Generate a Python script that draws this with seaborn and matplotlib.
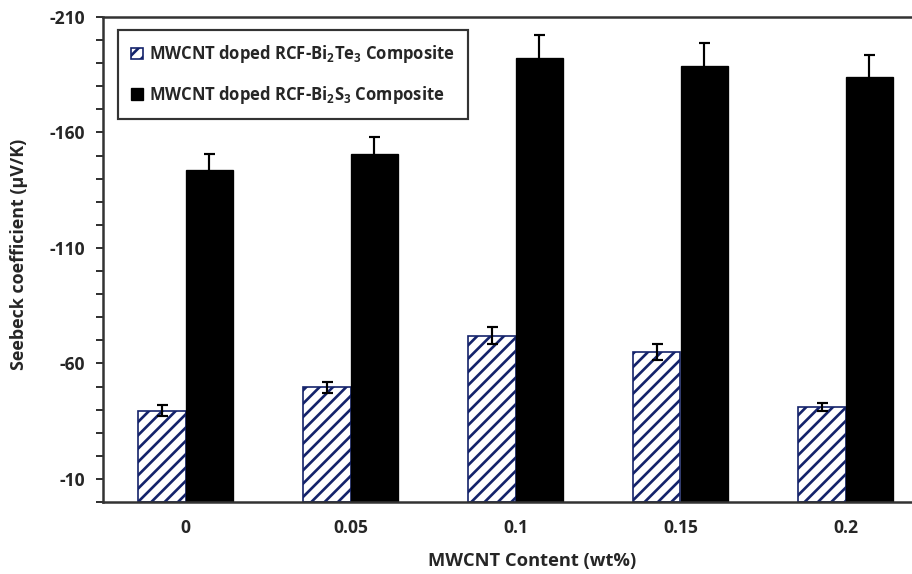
import numpy as np
import pandas as pd
import matplotlib
matplotlib.use("Agg")
import matplotlib.pyplot as plt
import seaborn as sns
from matplotlib.ticker import MultipleLocator

# ---- data ----
contents = ["0", "0.05", "0.1", "0.15", "0.2"]
series_names = ["MWCNT doped RCF-Bi$_2$Te$_3$ Composite",
                "MWCNT doped RCF-Bi$_2$S$_3$ Composite"]
bi2te3_vals = [-39.6, -49.7, -72.0, -65.0, -41.1]
bi2te3_err = [2.2, 2.4, 3.6, 3.3, 1.9]
bi2s3_vals = [-143.8, -150.6, -192.3, -188.8, -184.1]
bi2s3_err = [6.9, 7.6, 9.7, 9.8, 9.5]
y_ticks = [-10, -60, -110, -160, -210]

df = pd.DataFrame({
    "content": contents * 2,
    "value": bi2te3_vals + bi2s3_vals,
    "series": [series_names[0]] * 5 + [series_names[1]] * 5,
})
errs = {series_names[0]: bi2te3_err, series_names[1]: bi2s3_err}

FONT = "Open Sans"
sns.set_theme(style="white")
plt.rcParams["font.family"] = [FONT, "DejaVu Sans"]
plt.rcParams["font.weight"] = "bold"
plt.rcParams["axes.unicode_minus"] = False
plt.rcParams["mathtext.fontset"] = "custom"
plt.rcParams["mathtext.rm"] = FONT + ":bold"
plt.rcParams["mathtext.it"] = FONT + ":bold"
plt.rcParams["mathtext.bf"] = FONT + ":bold"
plt.rcParams["hatch.linewidth"] = 1.6

navy = "#14236B"
DPI = 120
fig = plt.figure(figsize=(912 / DPI, 574 / DPI), dpi=DPI)
ax = fig.add_axes([103 / 912, 1 - 502 / 574, 825 / 912, 485 / 574])

sns.barplot(data=df, x="content", y="value", hue="series", order=contents,
            hue_order=series_names, palette=["white", "black"],
            errorbar=None, width=0.57, dodge=True, ax=ax, legend=False,
            saturation=1)

for cont, name in zip(ax.containers, series_names):
    for p in cont.patches:
        if name == series_names[0]:
            p.set_facecolor("white")
            p.set_edgecolor(navy)
            p.set_hatch("///")
            p.set_linewidth(1.0)
        else:
            p.set_facecolor("black")
            p.set_edgecolor("black")
            p.set_linewidth(0.8)
    xs = [p.get_x() + p.get_width() / 2 for p in cont.patches]
    ys = [p.get_height() for p in cont.patches]
    ax.errorbar(xs, ys, yerr=errs[name], fmt="none", ecolor="black",
                elinewidth=1.3, capsize=3.3, capthick=1.3, zorder=5)

ax.set_xlim(-0.5, 4.5)
ax.set_ylim(0, -210)
ax.set_yticks(y_ticks)
ax.yaxis.set_minor_locator(MultipleLocator(10))
ax.tick_params(axis="y", which="both", direction="out", length=4, width=1.2,
               color="#333333", left=True, labelsize=10.5, pad=7)
ax.tick_params(axis="x", length=0, labelsize=10.5, pad=10)
for lab in ax.get_xticklabels() + ax.get_yticklabels():
    lab.set_fontweight("bold")

for side in ["left", "bottom", "top"]:
    ax.spines[side].set_visible(True)
    ax.spines[side].set_color("#333333")
    ax.spines[side].set_linewidth(1.5)
ax.spines["right"].set_visible(False)

ax.set_xlabel("MWCNT Content (wt%)", fontsize=11, fontweight="bold")
ax.set_ylabel("Seebeck coefficient (μV/K)", fontsize=10.75, fontweight="bold")
ax.xaxis.set_label_coords(0.52, -0.104)
ax.yaxis.set_label_coords(-0.091, 0.51)

leg = ax.legend(ax.containers[:2], series_names, loc="upper left",
                bbox_to_anchor=(0.018, 0.973), borderaxespad=0,
                frameon=True, fancybox=False, edgecolor="black",
                handlelength=0.7, handleheight=0.7, handletextpad=0.35,
                labelspacing=1.1, borderpad=0.8, prop={"weight": "bold", "size": 10})
leg.get_frame().set_linewidth(1.3)

fig.savefig("out.png", dpi=DPI)
